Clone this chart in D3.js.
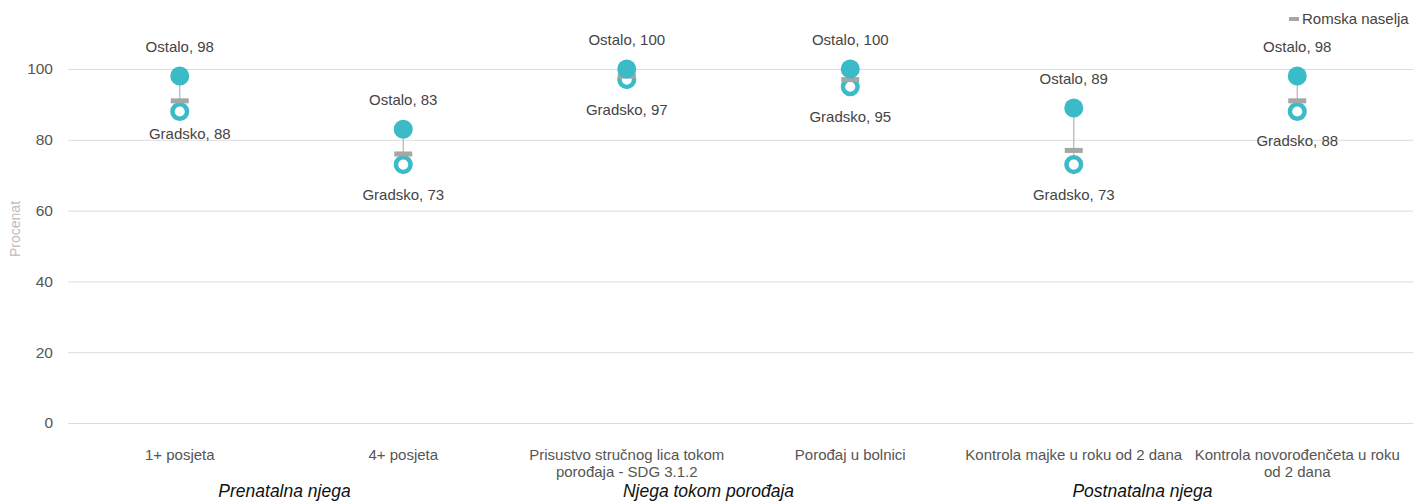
<!DOCTYPE html>
<html>
<head>
<meta charset="utf-8">
<script src="https://cdn.jsdelivr.net/npm/d3@7"></script>
<style>
  body { margin: 0; background: #fff; }
  svg { display: block; font-family: "Liberation Sans", Arial, sans-serif; }
</style>
</head>
<body>
<svg id="chart" width="1425" height="502"></svg>
<script>
// ====================================
// Données
// ====================================
const categories = [
  "1+ posjeta",
  "4+ posjeta",
  "Prisustvo stručnog lica tokom porođaja - SDG 3.1.2",
  "Porođaj u bolnici",
  "Kontrola majke u roku od 2 dana",
  "Kontrola novorođenčeta u roku od 2 dana"
];
const ostalo = [98, 83, 100, 100, 89, 98];
const gradsko = [88, 73, 97, 95, 73, 88];
const romska = [91, 76, 98, 97, 77, 91];
const groups = [
  { name: "Prenatalna njega", from: 0, to: 1 },
  { name: "Njega tokom porođaja", from: 2, to: 3 },
  { name: "Postnatalna njega", from: 4, to: 5 }
];
const yTicks = [0, 20, 40, 60, 80, 100];

// ====================================
// Mise en page
// ====================================
const teal = "#3bbac7";
const grey = "#a6a6a6";
const plotLeft = 68, plotRight = 1409, plotTop = 69, plotBottom = 423;

const svg = d3.select("#chart");

const x = d3.scaleBand()
  .domain(d3.range(categories.length))
  .range([plotLeft, plotRight]);

const y = d3.scaleLinear()
  .domain([0, 100])
  .range([plotBottom, plotTop]);

const cx = i => x(i) + x.bandwidth() / 2;

// Grille + graduations
const yAxis = d3.axisLeft(y)
  .tickValues(yTicks)
  .tickSize(-(plotRight + 4 - plotLeft))
  .tickPadding(15);

const gy = svg.append("g")
  .attr("transform", `translate(${plotLeft},0)`)
  .call(yAxis);
gy.select(".domain").remove();
gy.selectAll(".tick line")
  .attr("stroke", "#dcdcdc")
  .attr("stroke-width", 1);
gy.selectAll(".tick text")
  .attr("fill", "#555")
  .style("font-size", "15.5px");

// Titre de l'axe Y
svg.append("text")
  .attr("transform", `translate(20,229) rotate(-90)`)
  .attr("text-anchor", "middle")
  .attr("fill", "#bdbdbd")
  .style("font-size", "14px")
  .text("Procenat");

// Liaisons verticales
svg.append("g").selectAll("line")
  .data(categories)
  .join("line")
  .attr("x1", (d, i) => cx(i))
  .attr("x2", (d, i) => cx(i))
  .attr("y1", (d, i) => y(ostalo[i]))
  .attr("y2", (d, i) => y(gradsko[i]))
  .attr("stroke", "#b5b5b5")
  .attr("stroke-width", 1.2);

// Gradsko : anneaux
svg.append("g").selectAll("circle")
  .data(gradsko)
  .join("circle")
  .attr("cx", (d, i) => cx(i))
  .attr("cy", d => y(d))
  .attr("r", 7.3)
  .attr("fill", "#fff")
  .attr("stroke", teal)
  .attr("stroke-width", 4.5);

// Romska naselja : tirets gris
svg.append("g").selectAll("rect")
  .data(romska)
  .join("rect")
  .attr("x", (d, i) => cx(i) - 9)
  .attr("y", d => y(d) - 2.5)
  .attr("width", 18)
  .attr("height", 5)
  .attr("fill", grey);

// Ostalo : disques pleins
svg.append("g").selectAll("circle")
  .data(ostalo)
  .join("circle")
  .attr("cx", (d, i) => cx(i))
  .attr("cy", d => y(d))
  .attr("r", 9.5)
  .attr("fill", teal);

// Étiquettes des valeurs
const labelStyle = sel => sel
  .attr("text-anchor", "middle")
  .attr("fill", "#444")
  .style("font-size", "15px");

svg.append("g").selectAll("text")
  .data(ostalo)
  .join("text")
  .call(labelStyle)
  .attr("x", (d, i) => cx(i))
  .attr("y", d => y(d) - 24)
  .text(d => `Ostalo, ${d}`);

// petit décalage pour la première étiquette (évite le chevauchement)
const gradskoNudge = [{ dx: 10, dy: -7 }];
svg.append("g").selectAll("text")
  .data(gradsko)
  .join("text")
  .call(labelStyle)
  .attr("x", (d, i) => cx(i) + (gradskoNudge[i] ? gradskoNudge[i].dx : 0))
  .attr("y", (d, i) => y(d) + 35 + (gradskoNudge[i] ? gradskoNudge[i].dy : 0))
  .text(d => `Gradsko, ${d}`);

// Étiquettes des catégories (avec retour à la ligne)
function wrap(textSel, width) {
  textSel.each(function () {
    const text = d3.select(this);
    const words = text.text().split(/\s+/);
    const xPos = text.attr("x");
    text.text(null);
    let line = [];
    let tspan = text.append("tspan").attr("x", xPos).attr("dy", 0);
    words.forEach(w => {
      line.push(w);
      tspan.text(line.join(" "));
      if (tspan.node().getComputedTextLength() > width && line.length > 1) {
        line.pop();
        tspan.text(line.join(" "));
        line = [w];
        tspan = text.append("tspan").attr("x", xPos).attr("dy", "1.1em").text(w);
      }
    });
  });
}

svg.append("g").selectAll("text")
  .data(categories)
  .join("text")
  .attr("x", (d, i) => cx(i))
  .attr("y", 460)
  .attr("text-anchor", "middle")
  .attr("fill", "#555")
  .style("font-size", "15px")
  .text(d => d)
  .call(wrap, 220);

// Groupes de catégories
const groupShift = [-7, -30, -43];
svg.append("g").selectAll("text")
  .data(groups)
  .join("text")
  .attr("x", (g, i) => (x(g.from) + x(g.to) + x.bandwidth()) / 2 + groupShift[i])
  .attr("y", 497)
  .attr("text-anchor", "middle")
  .attr("fill", "#111")
  .style("font-size", "17.5px")
  .style("font-style", "italic")
  .text(g => g.name);

// Légende
const legend = svg.append("g").attr("transform", "translate(1289,19)");
legend.append("rect")
  .attr("x", 0).attr("y", -2)
  .attr("width", 10).attr("height", 4)
  .attr("fill", grey);
legend.append("text")
  .attr("x", 13).attr("y", 5)
  .attr("fill", "#444")
  .style("font-size", "15px")
  .text("Romska naselja");
</script>
</body>
</html>
